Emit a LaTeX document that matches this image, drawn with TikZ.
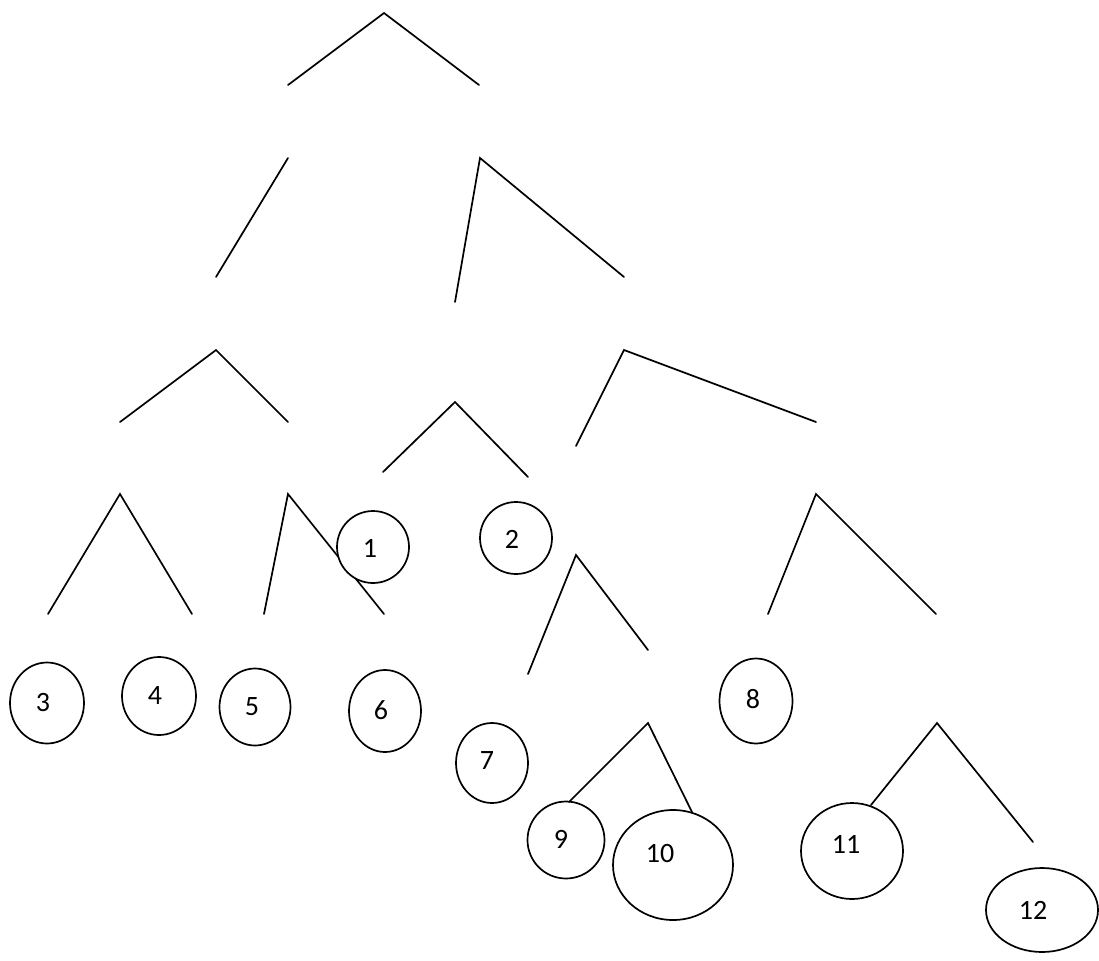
\documentclass[tikz,border=0pt]{standalone}
\usepackage{fontspec}
\setmainfont{Carlito}
\usetikzlibrary{shapes.geometric}
\begin{document}
\begin{tikzpicture}[x=1pt,y=-1pt,
  edge/.style={line width=1.7pt,line cap=round,line join=miter},
  leaf/.style={draw,line width=1.7pt,ellipse,inner sep=0pt},
  lbl/.style={font=\fontsize{28}{32}\selectfont,inner sep=0pt}]
\useasboundingbox[fill=white] (0,0) rectangle (1099,960);
% free-standing branch ends
\coordinate (a0) at (384,13);  \coordinate (a1) at (288,85);  \coordinate (a2) at (479,85);
\coordinate (b1) at (288,158); \coordinate (b2) at (216,277);
\coordinate (c0) at (480,158); \coordinate (c1) at (455,302); \coordinate (c2) at (624,277);
\coordinate (d0) at (216,350); \coordinate (d1) at (120,422); \coordinate (d2) at (288,422);
\coordinate (e0) at (455,402); \coordinate (e1) at (383,472); \coordinate (e2) at (528,477);
\coordinate (f0) at (624,350); \coordinate (f1) at (576,446); \coordinate (f2) at (816,422);
\coordinate (g0) at (120,494); \coordinate (g1) at (48,614);  \coordinate (g2) at (192,614);
\coordinate (h0) at (288,494); \coordinate (h1) at (264,614); \coordinate (h2) at (384,614);
\coordinate (i0) at (576,555); \coordinate (i1) at (528,674); \coordinate (i2) at (648,650);
\coordinate (j0) at (816,494); \coordinate (j1) at (768,614); \coordinate (j2) at (936,614);
\coordinate (k0) at (648,723); \coordinate (k1) at (569,802); \coordinate (k2) at (692,812);
\coordinate (l0) at (937,723); \coordinate (l1) at (871,805); \coordinate (l2) at (1033,842);
\draw[edge] (a1) -- (a0) -- (a2);
\draw[edge] (b1) -- (b2);
\draw[edge] (c1) -- (c0) -- (c2);
\draw[edge] (d1) -- (d0) -- (d2);
\draw[edge] (e1) -- (e0) -- (e2);
\draw[edge] (f1) -- (f0) -- (f2);
\draw[edge] (g1) -- (g0) -- (g2);
\draw[edge] (h1) -- (h0) -- (h2);
\draw[edge] (i1) -- (i0) -- (i2);
\draw[edge] (j1) -- (j0) -- (j2);
\draw[edge] (k1) -- (k0) -- (k2);
\draw[edge] (l1) -- (l0) -- (l2);
% leaves
\node[leaf,fill=white,minimum width=72pt,minimum height=72pt] (n1) at (373,547) {};
\node[leaf,minimum width=72pt,minimum height=72pt] (n2) at (516,538) {};
\node[leaf,minimum width=74pt,minimum height=81pt] (n3) at (47,703) {};
\node[leaf,minimum width=74pt,minimum height=78pt] (n4) at (159,696) {};
\node[leaf,minimum width=71pt,minimum height=77pt] (n5) at (255,707) {};
\node[leaf,minimum width=72pt,minimum height=82pt] (n6) at (385,711) {};
\node[leaf,minimum width=72pt,minimum height=80pt] (n7) at (492,763) {};
\node[leaf,minimum width=73pt,minimum height=85pt] (n8) at (756,701) {};
\node[leaf,minimum width=77pt,minimum height=77pt] (n9) at (566,840) {};
\node[leaf,minimum width=120pt,minimum height=110pt] (n10) at (673,865) {};
\node[leaf,minimum width=102pt,minimum height=96pt] (n11) at (852,851) {};
\node[leaf,minimum width=112pt,minimum height=84pt] (n12) at (1042,910) {};
% labels
\node[lbl] (t1) at (370,548) {1};
\node[lbl] (t2) at (512,539) {2};
\node[lbl] (t3) at (43,703) {3};
\node[lbl] (t4) at (155,696) {4};
\node[lbl] (t5) at (252,707) {5};
\node[lbl] (t6) at (381,710) {6};
\node[lbl] (t7) at (487,761) {7};
\node[lbl] (t8) at (753,699) {8};
\node[lbl] (t9) at (561,839) {9};
\node[lbl] (t10) at (660,853) {10};
\node[lbl] (t11) at (846,844) {11};
\node[lbl] (t12) at (1033,910) {12};
\end{tikzpicture}
\end{document}
